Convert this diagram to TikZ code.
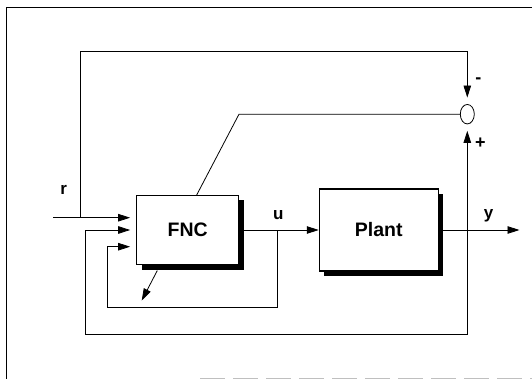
\documentclass[tikz,border=0pt]{standalone}
\usepackage{fontspec}
\setmainfont{Liberation Sans}
\usetikzlibrary{arrows.meta,shapes.geometric,shadows}
\begin{document}
\begin{tikzpicture}[x=1pt,y=-1pt,
  line width=0.8pt,
  arr/.style={-{Triangle[length=12pt,width=7.5pt]}},
  blk/.style={draw,fill=white,line width=1.1pt,inner sep=0pt,
    drop shadow={shadow xshift=5pt,shadow yshift=-5pt,fill=black,opacity=1},
    font=\fontsize{19.5}{20}\selectfont\bfseries},
  lbl/.style={font=\fontsize{17}{17}\selectfont\bfseries,inner sep=0pt},
  sgn/.style={font=\fontsize{18}{18}\selectfont\bfseries,inner sep=0pt},
]
\useasboundingbox (0,0) rectangle (532,379);
% frame
\draw[line width=0.8pt] (6,379) -- (6,7.5) -- (532,7.5);
\draw[black!25,line width=0.6pt,dash pattern=on 25pt off 8pt] (200,378) -- (532,378);

% blocks
\node[blk,minimum width=102pt,minimum height=69pt] (fnc) at (187.7,230) {FNC};
\node[blk,minimum width=119pt,minimum height=82pt] (plant) at (378.8,230) {Plant};
\node[draw,ellipse,line width=0.8pt,minimum width=14pt,minimum height=19.5pt,inner sep=0pt] (sum) at (467.3,114.2) {};

% coordinates
\coordinate (rin) at (53,217.7);
\coordinate (rj) at (80,217.7);
\coordinate (tl) at (80,51);
\coordinate (tr) at (467.3,51);
\coordinate (ek) at (239,114.2);
\coordinate (ub) at (277.5,230);
\coordinate (ubl) at (277.5,307);
\coordinate (in3b) at (107.3,307);
\coordinate (in3) at (107.3,246.7);
\coordinate (yb) at (467.3,230);
\coordinate (yout) at (519.5,230);
\coordinate (br) at (467.3,334);
\coordinate (bl) at (85,334);
\coordinate (in2) at (85,230);

% input r
\draw[arr,shorten >=6pt] (rin) -- (fnc.west |- rin);
% top loop to summing junction (-)
\draw[arr,shorten >=6.5pt] (rj) -- (tl) -- (tr) -- (sum.north);
% error signal to FNC
\draw (sum.west) -- (ek) -- ([xshift=9pt]fnc.north);
% u
\draw[arr] (fnc.east) -- (plant.west);
% y
\draw[arr] (plant.east) -- (yout);
% y to summing junction (+)
\draw[arr,shorten >=6.5pt] (yb) -- (sum.south);
% y feedback to FNC
\draw[arr,shorten >=6pt] (yb) -- (br) -- (bl) -- (in2) -- (fnc.west);
% u feedback to FNC
\draw[arr,shorten >=6pt] (ub) -- (ubl) -- (in3b) -- (in3) -- (fnc.west |- in3);
% adaptation arrow
\draw[arr] ([xshift=-30.4pt,yshift=-5.5pt]fnc.south) -- ++(-15.6,30);

% labels
\node[lbl] (lr) at (63.8,189.5) {r};
\node[lbl] (lu) at (278.3,214.7) {u};
\node[lbl] (ly) at (488.7,215.8) {y};
\node[sgn] (lm) at (478.3,81) {-};
\node[sgn] (lp) at (480.3,143.3) {+};
\end{tikzpicture}
\end{document}
